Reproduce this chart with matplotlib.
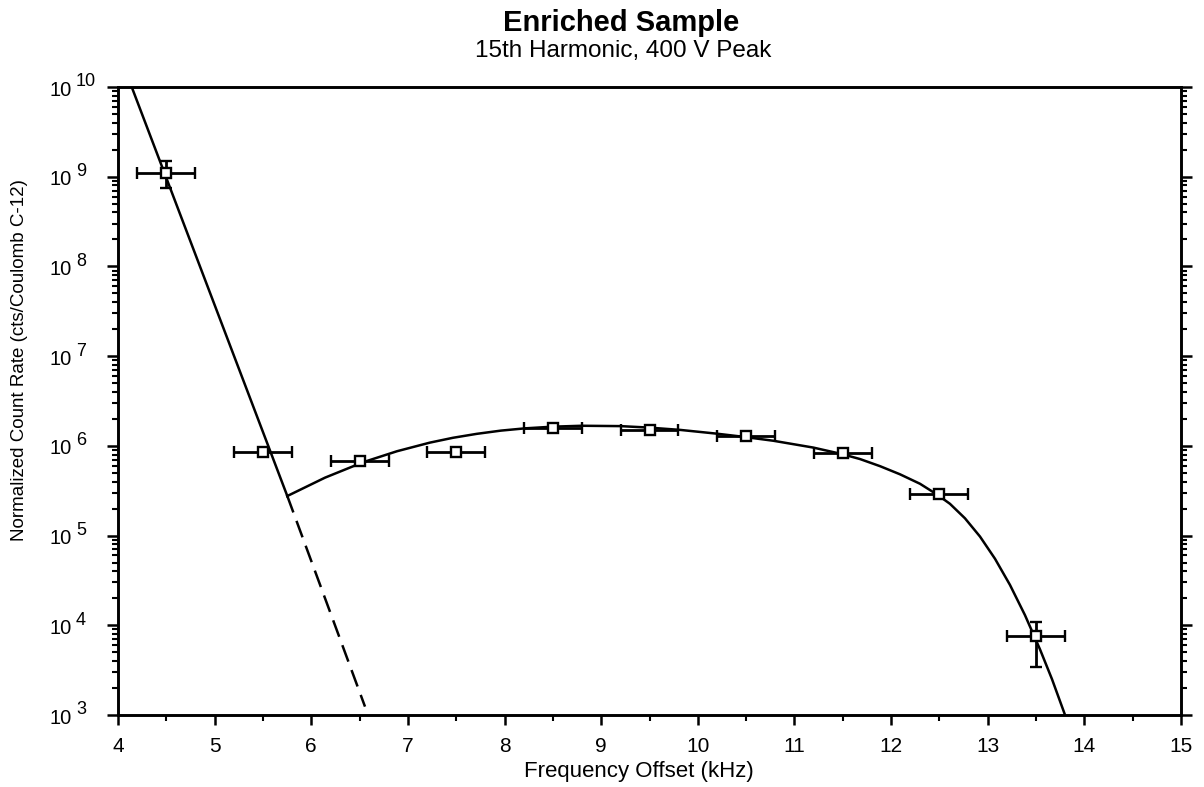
import matplotlib
matplotlib.use("Agg")
import matplotlib.pyplot as plt
from matplotlib.ticker import FixedLocator, LogLocator, NullFormatter, MultipleLocator
from matplotlib.transforms import blended_transform_factory, offset_copy

plt.rcParams['font.family'] = ['Liberation Sans', 'DejaVu Sans']

# Measured data points
pt_x = [4.5, 5.5, 6.5, 7.5, 8.5, 9.5, 10.5, 11.5, 12.5, 13.5]
pt_y = [1.11e9, 8.6e5, 6.8e5, 8.5e5, 1.59e6, 1.50e6, 1.29e6, 8.3e5, 2.9e5, 7.5e3]
pt_xerr = [0.3] * 10
pt_ylo = [7.43e8, None, None, None, None, None, None, None, None, 3.45e3]
pt_yhi = [1.50e9, None, None, None, None, None, None, None, None, 1.10e4]

# Fit curves
exp_x = [4.142, 5.752]
exp_y = [1.0e10, 2.76e5]
dash_x = [5.752, 6.556]
dash_y = [2.76e5, 1.24e3]
bump_x = [5.752, 6.142, 6.538, 6.887, 7.228, 7.466, 7.712, 7.963, 8.211, 8.501,
          8.798, 9.195, 9.487, 9.815, 10.195, 10.470, 10.781, 11.195, 11.489, 11.678,
          11.885, 12.092, 12.299, 12.475, 12.609, 12.764, 12.920, 13.075, 13.230,
          13.385, 13.540, 13.665, 13.799]
bump_y = [2.76e5, 4.42e5, 6.58e5, 8.71e5, 1.087e6, 1.230e6, 1.361e6, 1.479e6, 1.567e6,
          1.637e6, 1.675e6, 1.660e6, 1.600e6, 1.507e6, 1.368e6, 1.262e6, 1.140e6,
          9.57e5, 8.11e5, 7.13e5, 5.94e5, 4.82e5, 3.78e5, 2.87e5, 2.26e5, 1.56e5,
          9.75e4, 5.52e4, 2.82e4, 1.30e4, 5.42e3, 2.51e3, 1.007e3]

x_ticks = list(range(4, 16))
y_exps = list(range(3, 11))

fig = plt.figure(figsize=(12.04, 7.87), dpi=100)
ax = fig.add_axes([118/1204, 1 - 715/787, (1181-118)/1204, (715-87)/787])
ax.set_xlim(4, 15)
ax.set_yscale('log')
ax.set_ylim(1e3, 1e10)

ax.plot(exp_x, exp_y, color='black', lw=1.8, solid_joinstyle='miter')
ax.plot(dash_x, dash_y, color='black', lw=1.8, dashes=(7, 3.6))
ax.plot(bump_x, bump_y, color='black', lw=1.8, solid_joinstyle='round')

for x, y, xe, lo, hi in zip(pt_x, pt_y, pt_xerr, pt_ylo, pt_yhi):
    yerr = None
    if lo is not None:
        yerr = [[y - lo], [hi - y]]
    ax.errorbar([x], [y], xerr=[[xe], [xe]], yerr=yerr, fmt='s', color='black',
                mfc='white', mec='black', ms=7, mew=1.7, elinewidth=2.0,
                capsize=4.2, capthick=2.0, zorder=3)

for s in ax.spines.values():
    s.set_linewidth(2.1)

ax.xaxis.set_major_locator(FixedLocator(x_ticks))
ax.xaxis.set_minor_locator(MultipleLocator(0.5))
ax.set_xticklabels([str(t) for t in x_ticks])
ax.yaxis.set_major_locator(FixedLocator([10.0**e for e in y_exps]))
ax.yaxis.set_major_formatter(NullFormatter())
ax.yaxis.set_minor_locator(LogLocator(base=10, subs=range(2, 10), numticks=20))
ax.yaxis.set_minor_formatter(NullFormatter())

ax.tick_params(axis='x', which='major', direction='out', length=7, width=1.8,
               labelsize=15, pad=8.5, top=False)
ax.tick_params(axis='x', which='minor', direction='out', length=4, width=1.5, top=False)
ax.tick_params(axis='y', which='major', direction='out', length=8, width=1.8, right=True)
ax.tick_params(axis='y', which='minor', direction='out', length=4.5, width=1.5, right=True)

# y tick labels: "10" with raised exponent
tr = blended_transform_factory(fig.transFigure, ax.transData)
tr_base = offset_copy(tr, fig=fig, x=0, y=-3, units='dots')
tr_exp = offset_copy(tr, fig=fig, x=0, y=5, units='dots')
for e in y_exps:
    ax.text(72/1204, 10.0**e, '10', transform=tr_base, ha='right', va='center',
            fontsize=14.5, clip_on=False)
    ax.text(76/1204, 10.0**e, str(e), transform=tr_exp, ha='left', va='center',
            fontsize=13, clip_on=False)

fig.text(639/1204, 1 - 777/787, 'Frequency Offset (kHz)', fontsize=16,
         ha='center', va='baseline')
fig.text(20/1204, 1 - 360/787, 'Normalized Count Rate (cts/Coulomb C-12)', rotation=90,
         fontsize=13.5, ha='center', va='center')

fig.text(621/1204, 1 - 31/787, 'Enriched Sample', fontsize=21, fontweight='bold',
         ha='center', va='baseline')
fig.text(623/1204, 1 - 57/787, '15th Harmonic, 400 V Peak', fontsize=17.5,
         ha='center', va='baseline')

fig.savefig('out.png', dpi=100)
